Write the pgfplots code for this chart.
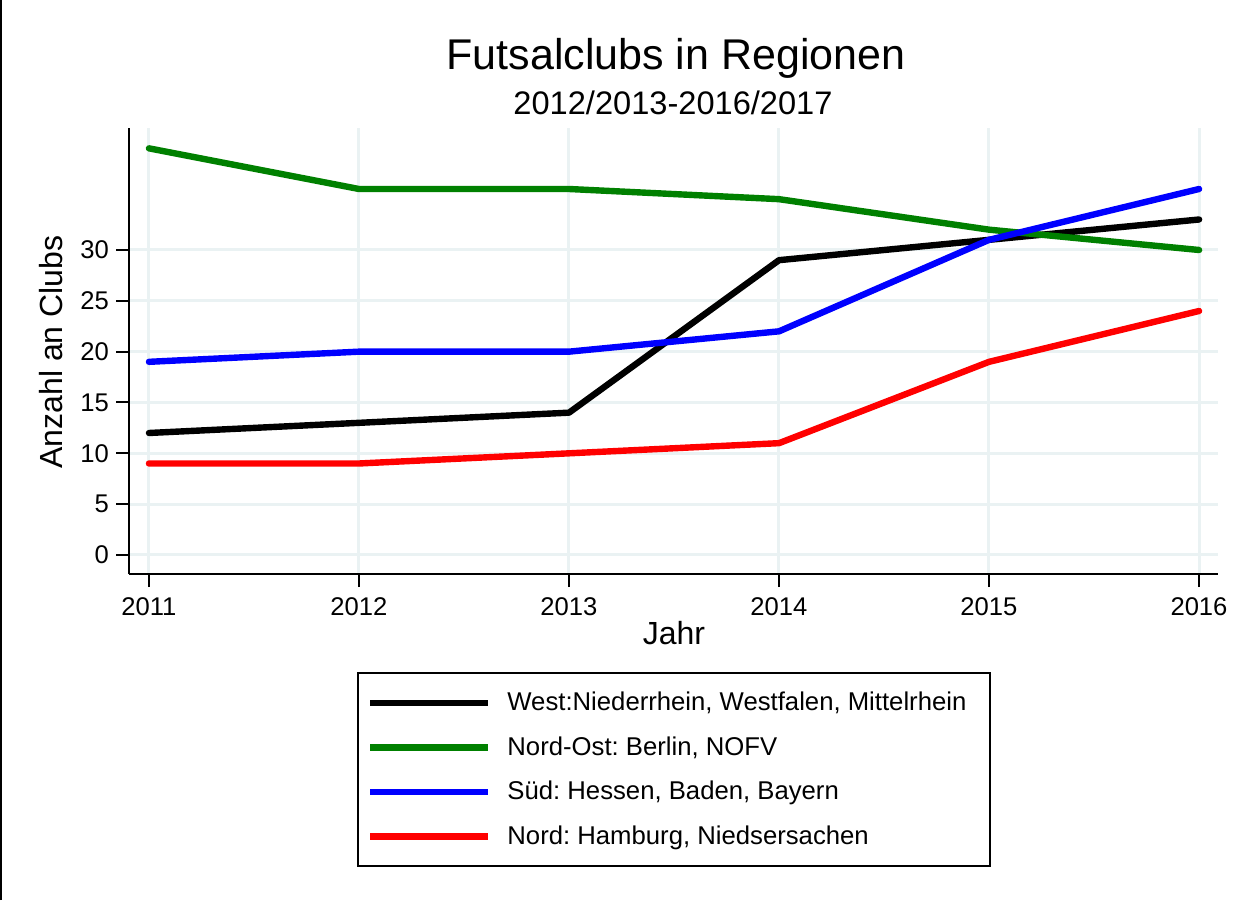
\documentclass[border=0pt]{standalone}
\usepackage{fontspec}
\setmainfont{Liberation Sans}
\usepackage{pgfplots}
\pgfplotsset{compat=1.18}
\definecolor{gridc}{HTML}{EAF2F3}
\definecolor{ngreen}{HTML}{008000}
\frenchspacing

\begin{document}
\begin{tikzpicture}
\path[use as bounding box] (0,0) rectangle (618.5pt,450pt);
\draw[line width=1pt] (0.5pt,0) -- (0.5pt,450pt);

\begin{axis}[
  at={(64.5pt,163pt)}, anchor=south west,
  scale only axis, width=544.5pt, height=223pt,
  xmin=2010.905, xmax=2016.09, ymin=-1.87, ymax=42,
  axis x line*=bottom, axis y line*=left,
  axis line style={line width=1pt, -},
  xtick={2011,...,2016}, ytick={0,5,...,30},
  tick align=outside, major tick length=6.5pt,
  tick style={line width=1pt, black},
  xmajorgrids, ymajorgrids,
  major grid style={line width=1.5pt, gridc},
  /pgf/number format/1000 sep={},
  /pgf/number format/assume math mode=true,
  ticklabel style={font=\fontsize{12.8}{15}\selectfont},
  xticklabel style={yshift=-2pt},
  legend style={at={(0.2094,-0.2197)}, anchor=north west,
    draw=black, line width=1pt, inner xsep=4.5pt, inner ysep=7.5pt,
    row sep=7.5pt, font=\fontsize{12.85}{15}\selectfont},
  legend cell align=left,
  legend image code/.code={
    \draw[#1, line width=3.2pt, line cap=butt] (0pt,0pt) -- (59pt,0pt);
    \path (65pt,0pt);},
  every axis plot/.append style={line width=3.2pt, line cap=round, line join=round},
]
\addplot[black] coordinates {(2011,12)(2012,13)(2013,14)(2014,29)(2015,31)(2016,33)};
\addlegendentry{West:Niederrhein, Westfalen, Mittelrhein\kern5.5pt}
\addplot[ngreen] coordinates {(2011,40)(2012,36)(2013,36)(2014,35)(2015,32)(2016,30)};
\addlegendentry{Nord-Ost: Berlin, NOFV}
\addplot[blue] coordinates {(2011,19)(2012,20)(2013,20)(2014,22)(2015,31)(2016,36)};
\addlegendentry{Süd: Hessen, Baden, Bayern}
\addplot[red] coordinates {(2011,9)(2012,9)(2013,10)(2014,11)(2015,19)(2016,24)};
\addlegendentry{Nord: Hamburg, Niedsersachen}
\end{axis}

\node[anchor=base, font=\fontsize{21.5}{26}\selectfont] at (338pt,415pt) {Futsalclubs in Regionen};
\node[anchor=base, font=\fontsize{16.3}{20}\selectfont] at (336.5pt,392.5pt) {2012/2013-2016/2017};
\node[anchor=base, font=\fontsize{16}{19}\selectfont] at (337pt,127.5pt) {Jahr};
\node[anchor=base, rotate=90, font=\fontsize{16}{19}\selectfont] at (31pt,274pt) {Anzahl an Clubs};
\end{tikzpicture}
\end{document}
